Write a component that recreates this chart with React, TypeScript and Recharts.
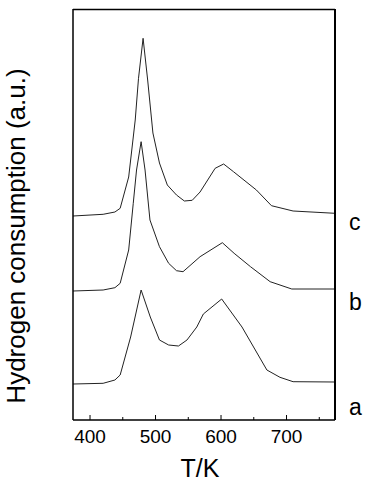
import { LineChart, Line, XAxis, YAxis, ReferenceLine } from 'recharts';

// TPR profiles, temperature in K vs hydrogen consumption (arbitrary units, curves offset)
const curveA = [
  { t: 374, v: 36 }, { t: 420, v: 36.7 }, { t: 438, v: 40 }, { t: 446, v: 45 },
  { t: 462, v: 83 }, { t: 478, v: 130 }, { t: 492, v: 103 }, { t: 506, v: 80 },
  { t: 520, v: 75 }, { t: 535, v: 74 }, { t: 548, v: 80 }, { t: 563, v: 93 },
  { t: 573, v: 106 }, { t: 601, v: 121 }, { t: 632, v: 93 }, { t: 670, v: 50 },
  { t: 690, v: 42.7 }, { t: 710, v: 38.3 }, { t: 774, v: 38 },
];

const curveB = [
  { t: 374, v: 129 }, { t: 420, v: 130 }, { t: 438, v: 132.3 }, { t: 446, v: 136.7 },
  { t: 459, v: 170 }, { t: 466, v: 216.7 }, { t: 471, v: 250 }, { t: 478, v: 278.3 },
  { t: 484, v: 250 }, { t: 491.5, v: 200 }, { t: 506, v: 173.3 }, { t: 520, v: 156.7 },
  { t: 532, v: 149.3 }, { t: 542, v: 148.3 }, { t: 568, v: 163.3 }, { t: 602, v: 177.3 },
  { t: 620, v: 166.7 }, { t: 645, v: 153.3 }, { t: 675, v: 138.3 }, { t: 708, v: 131 },
  { t: 774, v: 131 },
];

const curveC = [
  { t: 374, v: 204 }, { t: 420, v: 205.7 }, { t: 438, v: 208 }, { t: 446, v: 211.7 },
  { t: 459, v: 243 }, { t: 469, v: 300 }, { t: 474, v: 341.7 }, { t: 481, v: 381.7 },
  { t: 488, v: 340 }, { t: 496, v: 287 }, { t: 506, v: 257 }, { t: 518, v: 235 },
  { t: 532, v: 225 }, { t: 544, v: 219 }, { t: 556, v: 219.7 }, { t: 568, v: 228 },
  { t: 591, v: 251.7 }, { t: 604, v: 256 }, { t: 619, v: 248.3 }, { t: 654, v: 230 },
  { t: 677, v: 214.3 }, { t: 710, v: 209 }, { t: 774, v: 206.7 },
];

const xTicks = [400, 450, 500, 550, 600, 650, 700, 750];
const majorTicks = [400, 500, 600, 700];
const curveLabels = ['a', 'b', 'c'];
const curveLabelPos = [13, 118, 198];

const FONT = '"Liberation Sans", Arial, sans-serif';

const BottomTick = (props: any) => {
  const { x, y, payload } = props;
  const major = majorTicks.includes(payload.value);
  return (
    <g>
      <line x1={x} x2={x} y1={y} y2={y - (major ? 5 : 3)} stroke="#000" strokeWidth={1} />
      {major && (
        <text x={x} y={y + 10} dy="0.71em" textAnchor="middle" fontSize={19} fontFamily={FONT} fill="#000">
          {payload.value}
        </text>
      )}
    </g>
  );
};

export default function App() {
  return (
    <div style={{ position: 'absolute', left: 0, top: 0, width: 365, height: 482, background: '#fff' }}>
      <LineChart width={365} height={482} margin={{ top: 9, right: 0, bottom: 0, left: 0 }}>
        <XAxis
          dataKey="t"
          type="number"
          domain={[374, 774]}
          ticks={xTicks}
          tickSize={0}
          tickMargin={0}
          tick={<BottomTick />}
          height={62}
          axisLine={{ stroke: '#000', strokeWidth: 1.5 }}
          allowDataOverflow
          label={{
            content: () => (
              <text x={200} y={468} dy="0.35em" textAnchor="middle" fontSize={25} fontFamily={FONT} fill="#000">
                T/K
              </text>
            ),
          }}
        />
        <YAxis
          type="number"
          domain={[0, 411]}
          tick={false}
          tickLine={false}
          width={73}
          axisLine={{ stroke: '#000', strokeWidth: 1.5 }}
          label={{
            content: () => (
              <text
                x={16}
                y={236}
                dy="0.35em"
                textAnchor="middle"
                fontSize={26}
                fontFamily={FONT}
                fill="#000"
                transform="rotate(-90 16 236)"
              >
                Hydrogen consumption (a.u.)
              </text>
            ),
          }}
        />
        <YAxis
          yAxisId="r"
          orientation="right"
          type="number"
          domain={[0, 411]}
          tick={false}
          tickLine={false}
          width={30}
          axisLine={{ stroke: '#000', strokeWidth: 1.5 }}
        />
        <ReferenceLine y={410.5} stroke="#000" strokeWidth={1.5} ifOverflow="visible" />
        {curveLabelPos.map((pos, i) => (
          <ReferenceLine
            key={curveLabels[i]}
            y={pos}
            stroke="none"
            label={{ value: curveLabels[i], position: 'right', offset: 14, fontSize: 23, fontFamily: FONT, fill: '#000' }}
          />
        ))}
        <Line data={curveA} dataKey="v" type="linear" stroke="#222" strokeWidth={1} dot={false} isAnimationActive={false} />
        <Line data={curveB} dataKey="v" type="linear" stroke="#222" strokeWidth={1} dot={false} isAnimationActive={false} />
        <Line data={curveC} yAxisId="r" dataKey="v" type="linear" stroke="#222" strokeWidth={1} dot={false} isAnimationActive={false} />
      </LineChart>
      {/* right frame edge */}
      <div style={{ position: 'absolute', left: 334, top: 9, width: 1.5, height: 411, background: '#000', pointerEvents: 'none' }} />
    </div>
  );
}
